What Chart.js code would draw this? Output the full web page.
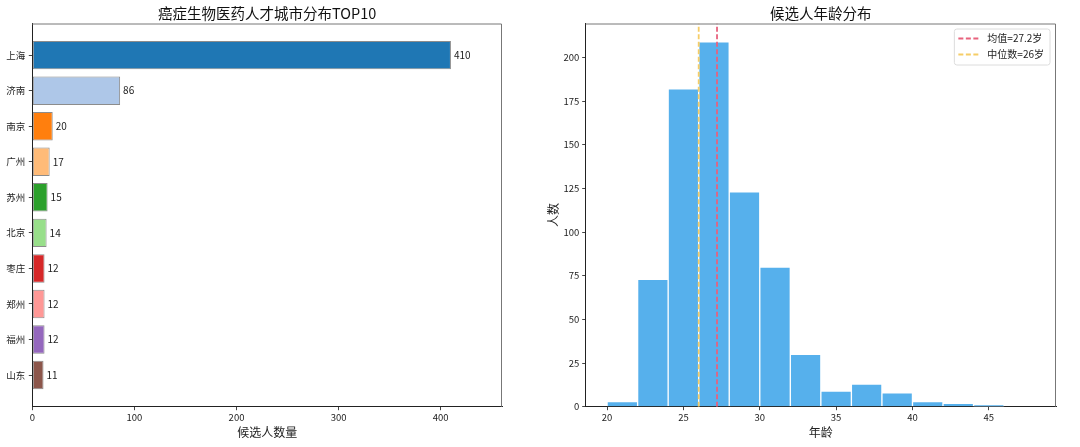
<!DOCTYPE html>
<html>
<head>
<meta charset="utf-8">
<script src="https://cdn.jsdelivr.net/npm/chart.js@4.4.1/dist/chart.umd.min.js"></script>
<style>
  html, body { margin: 0; padding: 0; background: #fff; }
  #wrap { position: relative; width: 1080px; height: 447px; }
  .box { position: absolute; top: 0; width: 540px; height: 447px; }
</style>
</head>
<body>
<div id="wrap">
  <div class="box" style="left:0"><canvas id="cityChart"></canvas></div>
  <div class="box" style="left:540px"><canvas id="ageChart"></canvas></div>
</div>
<script>
// left: top 10 cities
const cities = ["上海", "济南", "南京", "广州", "苏州", "北京", "枣庄", "郑州", "福州", "山东"];
const cityCounts = [410, 86, 20, 17, 15, 14, 12, 12, 12, 11];
const cityColors = ["#1f77b4", "#aec7e8", "#ff7f0e", "#ffbb78", "#2ca02c", "#98df8a", "#d62728", "#ff9896", "#9467bd", "#8c564b"];
const cityTicks = [0, 100, 200, 300, 400];

// right: age histogram (bins of 2 years)
const ageBinStarts = [20, 22, 24, 26, 28, 30, 32, 34, 36, 38, 40, 42, 44, 46];
const ageCounts = [3, 73, 182, 209, 123, 80, 30, 9, 13, 8, 3, 2, 1, 0];
const ageTicks = [20, 25, 30, 35, 40, 45];
const countTicks = [0, 25, 50, 75, 100, 125, 150, 175, 200];
const ageMean = 27.2;
const ageMedian = 26;

const FONT = "'Noto Sans CJK SC', 'Noto Sans', sans-serif";
Chart.defaults.font.family = FONT;
Chart.defaults.color = "#222";

// top and right spines
const framePlugin = {
  id: "frame",
  afterDraw(chart) {
    const { ctx, chartArea: a } = chart;
    ctx.save();
    ctx.strokeStyle = "#777";
    ctx.lineWidth = 1;
    ctx.beginPath();
    ctx.moveTo(a.left, a.top + 0.5);
    ctx.lineTo(a.right - 0.5, a.top + 0.5);
    ctx.lineTo(a.right - 0.5, a.bottom);
    ctx.stroke();
    ctx.restore();
  },
};

// numbers at the end of each bar
const valueLabels = {
  id: "valueLabels",
  afterDatasetsDraw(chart) {
    const { ctx } = chart;
    const meta = chart.getDatasetMeta(0);
    ctx.save();
    ctx.font = "10px " + FONT;
    ctx.fillStyle = "#222";
    ctx.textBaseline = "middle";
    meta.data.forEach((bar, i) => ctx.fillText(cityCounts[i], bar.x + 3, bar.y));
    ctx.restore();
  },
};

// boxed legend inside the plot, with dashed samples
const dashLegend = {
  id: "dashLegend",
  afterDraw(chart) {
    const { ctx, chartArea: a } = chart;
    const items = chart.data.datasets.filter((d) => d.type === "line");
    ctx.save();
    ctx.font = "10px " + FONT;
    const textW = Math.max(...items.map((d) => ctx.measureText(d.label).width));
    const w = 33 + textW + 6;
    const h = 36;
    const x = a.right - 6 - w;
    const y = a.top + 5.5;
    ctx.beginPath();
    ctx.roundRect(x, y, w, h, 2.5);
    ctx.fillStyle = "rgba(255,255,255,0.8)";
    ctx.fill();
    ctx.strokeStyle = "#dcdcdc";
    ctx.lineWidth = 1;
    ctx.stroke();
    items.forEach((d, i) => {
      const cy = y + 9.5 + i * 16;
      ctx.strokeStyle = d.borderColor;
      ctx.lineWidth = d.borderWidth;
      ctx.setLineDash(d.borderDash);
      ctx.beginPath();
      ctx.moveTo(x + 4, cy);
      ctx.lineTo(x + 25, cy);
      ctx.stroke();
      ctx.setLineDash([]);
      ctx.fillStyle = "#222";
      ctx.textBaseline = "middle";
      ctx.fillText(d.label, x + 33, cy);
    });
    ctx.restore();
  },
};

const tickGrid = { display: true, drawOnChartArea: false, drawTicks: true, tickLength: 3.5, color: "#444", offset: false };
const axisBorder = { display: true, color: "#222", width: 1 };
const titleFont = { size: 14.5, weight: "normal" };

new Chart(document.getElementById("cityChart"), {
  type: "bar",
  data: {
    datasets: [
      {
        data: cities.map((c, i) => ({ x: cityCounts[i], y: i })),
        backgroundColor: cityColors,
        borderColor: "rgba(120,120,120,0.85)",
        borderWidth: 1,
        borderSkipped: false,
        categoryPercentage: 1,
        barPercentage: 0.8,
      },
    ],
  },
  options: {
    indexAxis: "y",
    animation: false,
    responsive: true,
    maintainAspectRatio: false,
    layout: { padding: { left: 0, right: 38, top: 0, bottom: 0 } },
    plugins: {
      legend: { display: false },
      tooltip: { enabled: false },
      title: {
        display: true,
        text: "癌症生物医药人才城市分布TOP10",
        fullSize: false,
        color: "#111",
        font: titleFont,
        padding: { top: 4.3, bottom: 1.8 },
      },
    },
    scales: {
      x: {
        type: "linear",
        min: 0,
        max: 460,
        z: 1,
        afterBuildTicks: (s) => { s.ticks = cityTicks.map((v) => ({ value: v })); },
        afterFit: (s) => { s.height = 40.3; },
        grid: tickGrid,
        border: axisBorder,
        ticks: { font: { size: 9.5 }, padding: 1, maxRotation: 0 },
        title: { display: true, text: "候选人数量", font: { size: 12 }, padding: { top: 0, bottom: 7.8 } },
      },
      y: {
        type: "linear",
        min: -0.89,
        max: 9.89,
        reverse: true,
        offset: false,
        z: 1,
        afterBuildTicks: (s) => { s.ticks = cities.map((c, i) => ({ value: i })); },
        afterFit: (s) => { s.width = 32.3; },
        grid: tickGrid,
        border: axisBorder,
        ticks: { font: { size: 9.5 }, padding: 3.5, callback: (v) => cities[v] },
      },
    },
  },
  plugins: [framePlugin, valueLabels],
});

new Chart(document.getElementById("ageChart"), {
  type: "bar",
  data: {
    datasets: [
      {
        type: "bar",
        label: "年龄",
        data: ageBinStarts.map((s, i) => ({ x: s + 1, y: ageCounts[i] })),
        backgroundColor: "#56b0ec",
        borderColor: "#ffffff",
        borderWidth: 1,
        categoryPercentage: 1,
        barPercentage: 1,
        order: 3,
      },
      {
        type: "line",
        label: `均值=${ageMean}岁`,
        data: [{ x: ageMean, y: 0 }, { x: ageMean, y: 219.45 }],
        borderColor: "#e8627d",
        borderWidth: 1.8,
        borderDash: [5, 2.5],
        pointRadius: 0,
        order: 1,
      },
      {
        type: "line",
        label: `中位数=${ageMedian}岁`,
        data: [{ x: ageMedian, y: 0 }, { x: ageMedian, y: 219.45 }],
        borderColor: "#f6cd67",
        borderWidth: 1.8,
        borderDash: [5, 2.5],
        pointRadius: 0,
        order: 2,
      },
    ],
  },
  options: {
    animation: false,
    responsive: true,
    maintainAspectRatio: false,
    layout: { padding: { left: 0, right: 24, top: 0, bottom: 0 } },
    plugins: {
      legend: { display: false },
      tooltip: { enabled: false },
      title: {
        display: true,
        text: "候选人年龄分布",
        fullSize: false,
        color: "#111",
        font: titleFont,
        padding: { top: 4.3, bottom: 1.8 },
      },
    },
    scales: {
      x: {
        type: "linear",
        min: 18.6,
        max: 49.4,
        offset: false,
        z: 1,
        afterBuildTicks: (s) => { s.ticks = ageTicks.map((v) => ({ value: v })); },
        afterFit: (s) => { s.height = 40.3; },
        grid: tickGrid,
        border: axisBorder,
        ticks: { font: { size: 9.5 }, padding: 1, maxRotation: 0 },
        title: { display: true, text: "年龄", font: { size: 12 }, padding: { top: 0, bottom: 7.8 } },
      },
      y: {
        type: "linear",
        min: 0,
        max: 219.45,
        z: 1,
        afterBuildTicks: (s) => { s.ticks = countTicks.map((v) => ({ value: v })); },
        afterFit: (s) => { s.width = 45.7; },
        grid: tickGrid,
        border: axisBorder,
        ticks: { font: { size: 9.5 }, padding: 3 },
        title: { display: true, text: "人数", font: { size: 12 }, padding: { top: 5.8, bottom: 0 } },
      },
    },
  },
  plugins: [framePlugin, dashLegend],
});
</script>
</body>
</html>
